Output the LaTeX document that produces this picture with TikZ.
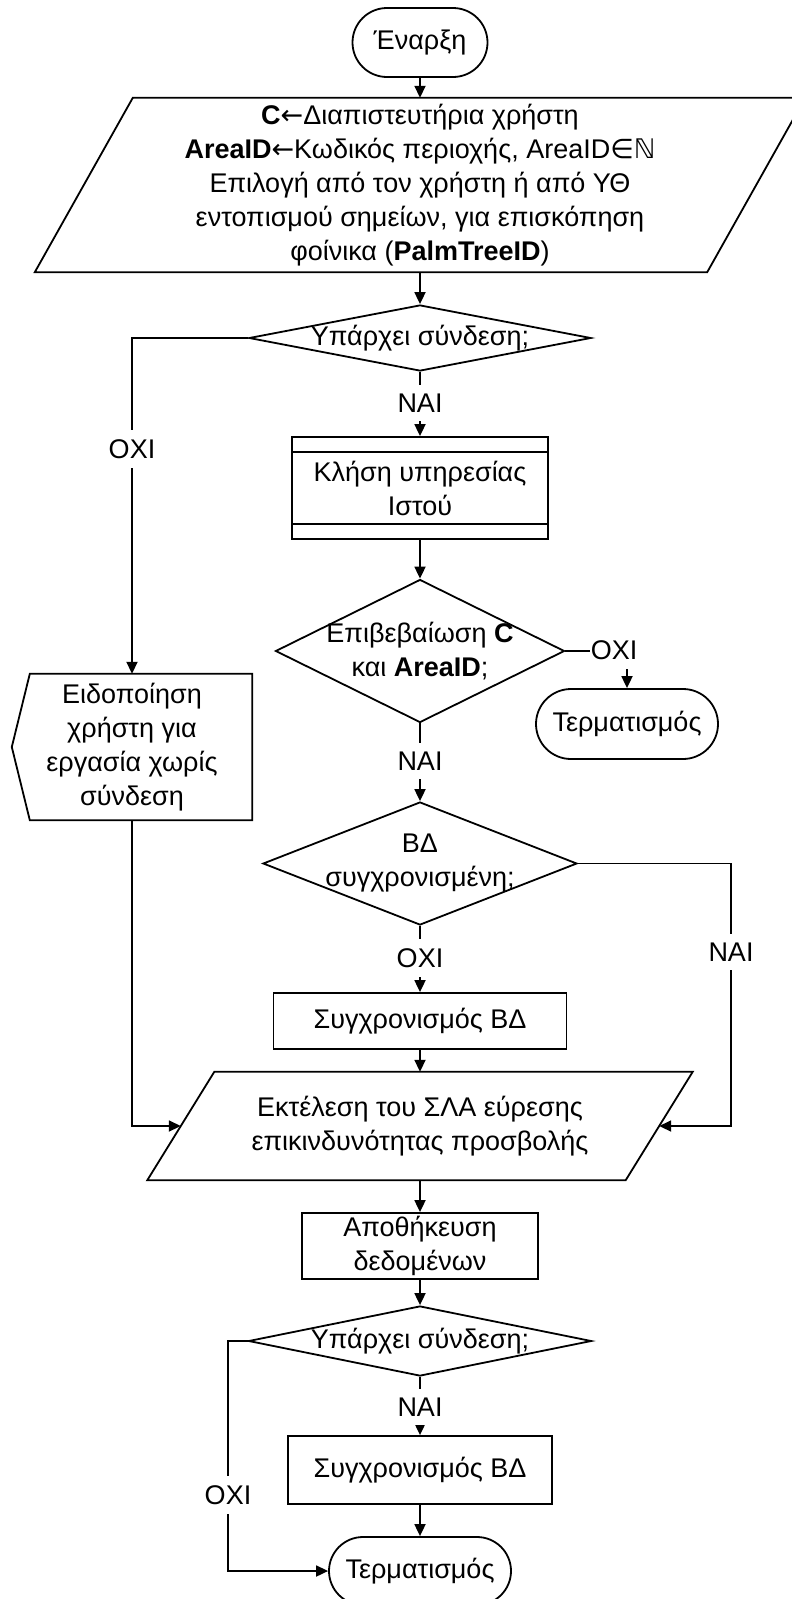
\documentclass[tikz,border=0pt]{standalone}
\usepackage{fontspec}
\setmainfont{Liberation Sans}
\newfontfamily\symfont{DejaVu Sans}
\usetikzlibrary{arrows.meta,calc,shapes.geometric,shapes.misc}

\begin{document}
\begin{tikzpicture}[x=1pt,y=-1pt,
  every node/.style={font=\fontsize{27}{34}\selectfont},
  ln/.style={line width=1.8pt},
  term/.style={rounded rectangle, draw, ln, inner sep=0pt},
  proc/.style={rectangle, draw, ln, inner sep=0pt, align=center},
  frame/.style={rectangle, inner sep=0pt, align=center},
  dec/.style={diamond, draw, ln, inner sep=0pt},
  txt/.style={inner sep=0pt, align=center},
  lbl/.style={fill=white, inner xsep=2pt, inner ysep=9pt},
  arr/.style={ln, -{Triangle[length=12pt,width=11pt]}},
]
\useasboundingbox (0,0) rectangle (792,1599);

% ---- nodes ----
\node[term, minimum width=135, minimum height=69] (start) at (420,42.5) {Έναρξη};

\node[frame, minimum width=672, minimum height=174] (in) at (420,185)
  {\textbf{C}{\symfont ←}Διαπιστευτήρια χρήστη\\
   \textbf{AreaID}{\symfont ←}Κωδικός περιοχής, AreaID{\symfont ∈ℕ}\\
   Επιλογή από τον χρήστη ή από ΥΘ\\
   εντοπισμού σημείων, για επισκόπηση\\
   φοίνικα (\textbf{PalmTreeID})};
\draw[ln] ($(in.north west)+(49,0)$) -- ($(in.north east)+(49,0)$)
  -- ($(in.south east)+(-49,0)$) -- ($(in.south west)+(-49,0)$) -- cycle;

\node[dec, minimum width=342, minimum height=66] (q1) at (420,338) {};
\node[txt] (q1t) at (q1) {Υπάρχει σύνδεση;};

\node[proc, minimum width=256, minimum height=102] (ws) at (420,488) {Κλήση υπηρεσίας\\Ιστού};
\draw[ln] ($(ws.north west)+(0,16)$) -- ($(ws.north east)+(0,16)$);
\draw[ln] ($(ws.south west)+(0,-16)$) -- ($(ws.south east)+(0,-16)$);

\node[dec, minimum width=289, minimum height=143] (q2) at (420,651) {};
\node[txt] (q2t) at (q2) {Επιβεβαίωση \textbf{C}\\και \textbf{AreaID};};

\node[term, minimum width=182, minimum height=70] (end1) at (627,724) {Τερματισμός};

\node[frame, minimum width=240, minimum height=146] (warn) at (132,747)
  {Ειδοποίηση\\χρήστη για\\εργασία χωρίς\\σύνδεση};
\draw[ln] (warn.north east) -- (warn.south east) -- ($(warn.south west)+(18,0)$)
  -- (warn.west) -- ($(warn.north west)+(18,0)$) -- cycle;

\node[dec, minimum width=314, minimum height=123] (q3) at (420,863.5) {};
\node[txt] (q3t) at (q3) {ΒΔ\\συγχρονισμένη;};

\node[proc, minimum width=293, minimum height=56] (sync1) at (420,1021) {Συγχρονισμός ΒΔ};

\node[frame, minimum width=478, minimum height=108] (run) at (420,1126)
  {Εκτέλεση του ΣΛΑ εύρεσης\\επικινδυνότητας προσβολής};
\draw[ln] ($(run.north west)+(33.5,0)$) -- ($(run.north east)+(33.5,0)$)
  -- ($(run.south east)+(-33.5,0)$) -- ($(run.south west)+(-33.5,0)$) -- cycle;

\node[proc, minimum width=236, minimum height=66] (save) at (420,1246) {Αποθήκευση\\δεδομένων};

\node[dec, minimum width=343, minimum height=70] (q4) at (420,1341) {};
\node[txt] (q4t) at (q4) {Υπάρχει σύνδεση;};

\node[proc, minimum width=264, minimum height=68] (sync2) at (420,1470) {Συγχρονισμός ΒΔ};

\node[term, minimum width=182, minimum height=68] (end2) at (420,1571) {Τερματισμός};

\coordinate (rbend) at (731,863.5);
\coordinate (lbend) at (228,1341);

% ---- connectors ----
\draw[arr] (start.south) -- (in.north);
\draw[arr] (in.south) -- (q1.north);
\draw[arr] (q1.south) -- (ws.north);
\draw[arr] (q1.west) -| (warn.north);
\draw[arr] (ws.south) -- (q2.north);
\draw[arr] (q2.south) -- (q3.north);
\draw[arr] (q2.east) -| (end1.north);
\draw[arr] (q3.south) -- (sync1.north);
\draw[arr] (q3.east) -- (rbend) |- (run.east);
\draw[arr] (warn.south) |- (run.west);
\draw[arr] (sync1.south) -- (run.north);
\draw[arr] (run.south) -- (save.north);
\draw[arr] (save.south) -- (q4.north);
\draw[arr] (q4.south) -- (sync2.north);
\draw[arr] (q4.west) -- (lbend) |- (end2.west);
\draw[arr] (sync2.south) -- (end2.north);

% ---- branch labels ----
\node[lbl] (y1) at (420,403) {ΝΑΙ};
\node[lbl] (n1) at (132,449) {ΟΧΙ};
\node[lbl, inner xsep=1pt] (n2) at (614,650) {ΟΧΙ};
\node[lbl] (y2) at (420,761) {ΝΑΙ};
\node[lbl] (n3) at (420,958) {ΟΧΙ};
\node[lbl] (y3) at (731,952) {ΝΑΙ};
\node[lbl] (y4) at (420,1407) {ΝΑΙ};
\node[lbl] (n4) at (228,1495) {ΟΧΙ};
\end{tikzpicture}
\end{document}
